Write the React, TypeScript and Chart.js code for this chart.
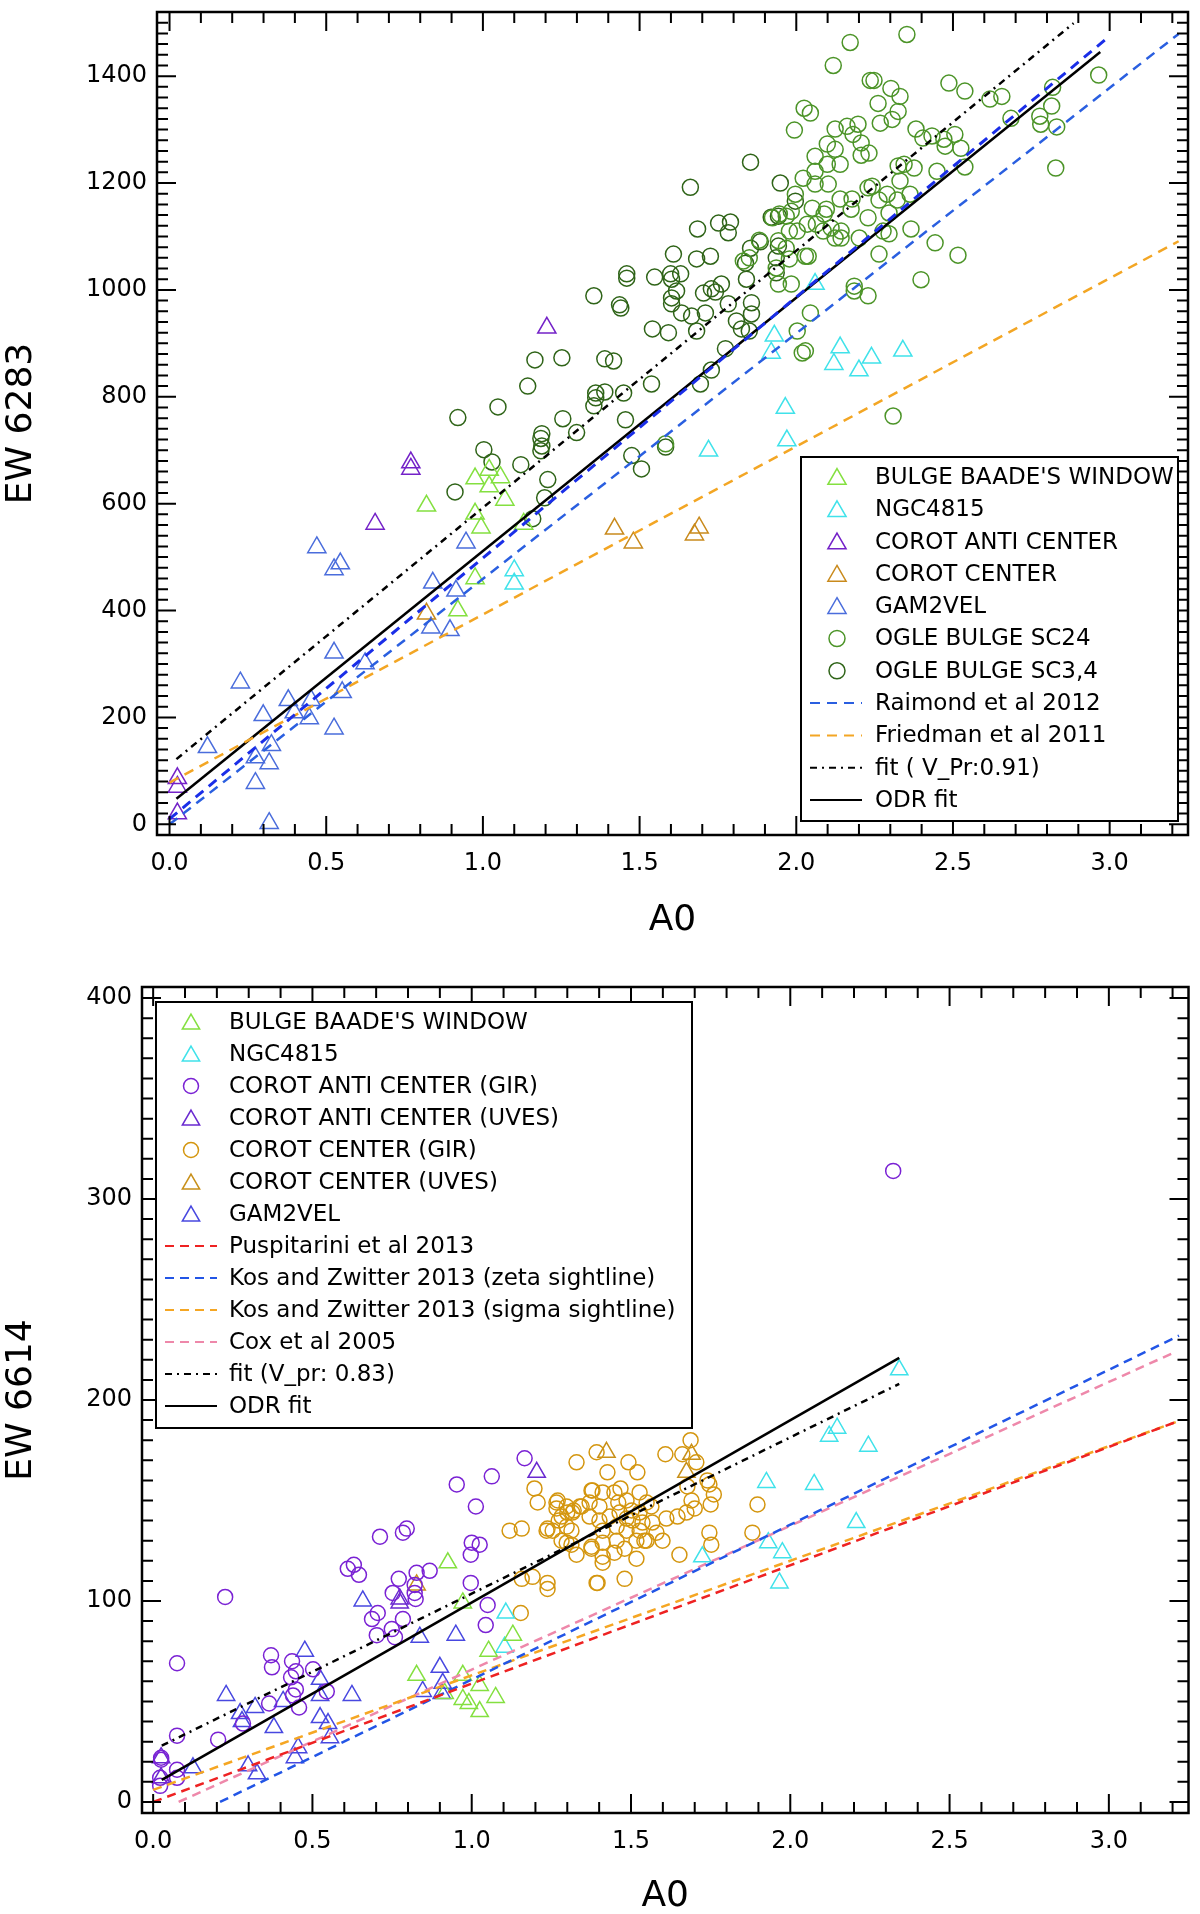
import React, { useEffect, useRef } from 'react';
import { Chart, registerables } from 'chart.js';

Chart.register(...registerables);

type Pt = [number, number];

// ---------- upper panel: EW 6283 against A0 ----------
const topXTicks = [0, 0.5, 1, 1.5, 2, 2.5, 3];
const topYTicks = [0, 200, 400, 600, 800, 1000, 1200, 1400];

const topBaade: Pt[] = [
  [0.82, 596], [0.975, 647], [1.02, 663], [1.056, 649], [1.02, 632], [1.07, 607],
  [0.975, 581], [0.994, 555], [1.13, 562], [0.975, 460], [0.92, 400],
];
const topNgc: Pt[] = [
  [1.965, 779], [1.97, 718], [1.72, 699], [1.1, 475], [1.1, 450], [2.06, 1011], [1.93, 914],
  [1.92, 882], [2.14, 892], [2.12, 861], [2.24, 873], [2.2, 849], [2.34, 886],
];
const topAnti: Pt[] = [
  [0.77, 677], [0.77, 665], [0.656, 562], [1.204, 929], [0.025, 86], [0.025, 70], [0.025, 20],
];
const topCenter: Pt[] = [
  [0.82, 394], [1.42, 553], [1.48, 527], [1.675, 542], [1.69, 555],
];
const topGam: Pt[] = [
  [0.47, 518], [0.545, 488], [0.525, 477], [0.946, 527], [0.84, 452], [0.914, 437], [0.834, 368],
  [0.895, 363], [0.525, 321], [0.624, 301], [0.226, 265], [0.379, 232], [0.452, 232], [0.551, 247],
  [0.398, 209], [0.299, 204], [0.446, 198], [0.525, 179], [0.121, 144], [0.325, 148], [0.274, 125],
  [0.318, 114], [0.274, 77], [0.318, 2],
];
const topSc24: Pt[] = [
  [2.172, 1463], [2.353, 1478], [2.118, 1420], [2.236, 1392], [2.248, 1392], [2.302, 1377],
  [2.331, 1362], [2.261, 1349], [2.325, 1334], [2.306, 1319], [2.268, 1312], [2.487, 1387],
  [2.538, 1372], [2.618, 1357], [2.656, 1362], [2.685, 1321], [2.818, 1379], [2.815, 1344],
  [2.777, 1325], [2.78, 1310], [2.831, 1305], [2.965, 1402], [2.828, 1228], [2.025, 1340],
  [2.045, 1331], [1.994, 1299], [2.124, 1301], [2.162, 1306], [2.197, 1310], [2.181, 1291],
  [2.099, 1273], [2.124, 1263], [2.207, 1275], [2.207, 1252], [2.232, 1256], [2.06, 1250],
  [2.099, 1235], [2.14, 1235], [2.06, 1222], [2.022, 1209], [2.06, 1198], [2.102, 1198],
  [2.051, 1153], [2.096, 1151], [2.14, 1170], [2.178, 1170], [2.175, 1151], [2.089, 1142],
  [2.035, 1123], [2.064, 1123], [2.003, 1110], [2.086, 1110], [2.111, 1116], [2.143, 1110],
  [2.124, 1097], [2.143, 1097], [2.229, 1191], [2.242, 1194], [2.229, 1135], [2.264, 1168],
  [2.29, 1179], [2.322, 1168], [2.331, 1204], [2.363, 1179], [2.325, 1232], [2.344, 1235],
  [2.376, 1228], [2.296, 1144], [2.277, 1110], [2.296, 1105], [2.366, 1114], [2.264, 1067],
  [2.201, 1097], [2.382, 1301], [2.404, 1284], [2.433, 1288], [2.471, 1282], [2.475, 1269],
  [2.506, 1291], [2.525, 1265], [2.449, 1222], [2.538, 1230], [2.443, 1088], [2.516, 1065],
  [2.398, 1019], [2.309, 764], [2.029, 886], [2.019, 882], [2.003, 923], [2.045, 957],
  [2.185, 1007], [2.185, 998], [2.229, 989], [1.984, 1011], [1.943, 1011], [1.936, 1041],
  [1.583, 712], [1.924, 1135], [1.946, 1142], [1.968, 1138], [1.978, 1110], [1.943, 1092],
  [2.029, 1063], [2.038, 1063], [1.968, 1078], [1.978, 1058], [1.882, 1093], [1.85, 1060],
  [1.831, 1054], [1.984, 1147], [1.997, 1179],
];
const topSc34: Pt[] = [
  [1.854, 1239], [1.662, 1192], [1.949, 1200], [1.997, 1166], [1.685, 1114], [1.752, 1125],
  [1.79, 1127], [1.783, 1107], [1.92, 1136], [1.943, 1138], [1.885, 1090], [1.854, 1078],
  [1.943, 1082], [1.608, 1067], [1.682, 1058], [1.726, 1063], [1.838, 1050], [1.936, 1060],
  [1.459, 1030], [1.459, 1022], [1.548, 1024], [1.599, 1030], [1.631, 1030], [1.602, 1020],
  [1.618, 998], [1.841, 1020], [1.936, 1032], [1.354, 989], [1.436, 972], [1.44, 966],
  [1.602, 985], [1.602, 974], [1.634, 957], [1.666, 951], [1.704, 994], [1.729, 1002],
  [1.742, 996], [1.761, 1011], [1.783, 974], [1.71, 957], [1.857, 976], [1.857, 955],
  [1.809, 942], [1.825, 927], [1.85, 923], [1.682, 923], [1.541, 927], [1.592, 920],
  [1.774, 890], [1.729, 850], [1.694, 824], [1.166, 869], [1.252, 873], [1.389, 871],
  [1.417, 867], [1.143, 820], [1.36, 807], [1.36, 798], [1.389, 809], [1.354, 783],
  [1.449, 807], [1.538, 824], [1.048, 781], [0.92, 761], [1.255, 759], [1.455, 757],
  [1.188, 731], [1.185, 722], [1.188, 708], [1.185, 699], [1.299, 733], [1.003, 701],
  [1.029, 678], [1.121, 673], [1.583, 706], [1.475, 690], [1.506, 665], [0.911, 622],
  [1.207, 645], [1.197, 611], [1.159, 572],
];
const topRaimond: Pt[] = [[0.0, 0], [3.22, 1479]];
const topRaimondBold: Pt[] = [[0.0, 10], [3.0, 1475]];
const topFriedman: Pt[] = [[0.0, 78], [3.22, 1091]];
const topFitVpr: Pt[] = [[0.022, 122], [2.885, 1499]];
const topOdr: Pt[] = [[0.022, 48], [2.97, 1445]];

// ---------- lower panel: EW 6614 against A0 ----------
const botXTicks = [0, 0.5, 1, 1.5, 2, 2.5, 3];
const botYTicks = [0, 100, 200, 300, 400];

const botBaade: Pt[] = [
  [0.925, 119], [0.972, 99], [1.053, 75], [1.129, 83], [0.827, 63], [0.972, 63], [1.025, 58],
  [0.972, 51], [0.991, 49], [1.025, 45], [1.075, 52], [0.915, 54],
];
const botNgc: Pt[] = [
  [1.107, 94], [1.103, 77], [1.724, 122], [1.925, 159], [2.075, 158], [2.147, 186], [2.122, 182],
  [2.245, 177], [2.207, 139], [1.931, 129], [1.975, 124], [1.966, 109], [2.342, 215],
];
const botAntiGir: Pt[] = [
  [1.166, 171], [1.063, 162], [0.953, 158], [1.013, 147], [0.712, 132], [0.784, 134], [0.796, 136],
  [1.0, 129], [1.025, 128], [0.997, 123], [0.611, 116], [0.63, 118], [0.646, 113], [0.771, 111],
  [0.827, 114], [0.868, 115], [0.821, 108], [0.752, 104], [0.821, 104], [0.824, 101], [0.997, 109],
  [0.226, 102], [0.705, 94], [0.687, 91], [0.784, 91], [1.05, 98], [1.044, 88], [0.702, 83],
  [0.749, 86], [0.759, 82], [0.075, 69], [0.37, 73], [0.373, 67], [0.436, 70], [0.448, 65],
  [0.433, 62], [0.502, 66], [0.448, 56], [0.439, 53], [0.545, 55], [0.364, 49], [0.458, 47],
  [0.282, 39], [0.075, 33], [0.204, 31], [0.025, 22], [0.025, 21], [0.075, 16], [0.075, 12],
  [0.022, 12], [0.022, 8], [2.323, 314],
];
const botAntiUves: Pt[] = [
  [1.204, 164], [0.774, 101], [0.774, 99], [0.025, 22], [0.025, 12],
];
const botCenterGir: Pt[] = [
  [1.687, 180], [1.392, 174], [1.608, 173], [1.492, 169], [1.329, 169], [1.661, 173], [1.705, 169],
  [1.52, 164], [1.426, 164], [1.74, 160], [1.197, 156], [1.207, 149], [1.376, 155], [1.411, 154],
  [1.448, 154], [1.467, 156], [1.486, 150], [1.46, 149], [1.527, 154], [1.27, 150], [1.298, 147],
  [1.32, 145], [1.339, 147], [1.266, 146], [1.37, 149], [1.401, 147], [1.549, 149], [1.564, 147],
  [1.677, 157], [1.69, 150], [1.7, 146], [1.75, 148], [1.76, 153], [1.746, 158], [1.646, 142],
  [1.611, 141], [1.674, 144], [1.433, 142], [1.401, 140], [1.37, 142], [1.464, 144], [1.502, 145],
  [1.486, 141], [1.527, 144], [1.505, 140], [1.536, 139], [1.527, 135], [1.567, 139], [1.58, 134],
  [1.599, 130], [1.549, 130], [1.282, 142], [1.298, 137], [1.254, 135], [1.235, 135], [1.313, 135],
  [1.282, 130], [1.313, 128], [1.411, 135], [1.455, 137], [1.486, 135], [1.455, 130], [1.411, 129],
  [1.48, 126], [1.517, 130], [1.542, 130], [1.329, 123], [1.376, 127], [1.411, 122], [1.448, 124],
  [1.517, 121], [1.411, 119], [1.652, 123], [1.746, 134], [1.752, 128], [1.119, 135], [1.157, 136],
  [1.157, 111], [1.191, 112], [1.238, 109], [1.238, 106], [1.392, 109], [1.48, 111], [1.154, 94],
  [1.897, 148], [1.881, 134], [1.238, 136], [1.266, 149], [1.3, 144], [1.273, 140], [1.316, 144],
  [1.345, 147], [1.379, 155], [1.298, 129], [1.376, 126], [1.395, 109],
];
const botCenterUves: Pt[] = [
  [0.827, 108], [1.423, 174], [1.674, 164], [1.69, 173],
];
const botGam: Pt[] = [
  [0.476, 75], [0.524, 61], [0.524, 53], [0.624, 53], [0.229, 53], [0.32, 47], [0.273, 44],
  [0.279, 40], [0.379, 37], [0.524, 42], [0.549, 39], [0.555, 32], [0.455, 27], [0.445, 22],
  [0.298, 18], [0.326, 14], [0.125, 17], [0.837, 82], [0.95, 83], [0.9, 67], [0.909, 59],
  [0.846, 55], [0.906, 54], [0.408, 50], [0.658, 100],
];
const botPuspitarini: Pt[] = [[0.0, 0], [3.21, 189]];
const botKosZeta: Pt[] = [[0.21, 0], [3.22, 232]];
const botKosSigma: Pt[] = [[0.0, 6], [3.21, 189]];
const botCox: Pt[] = [[0.08, 0], [3.21, 224]];
const botFitVpr: Pt[] = [[0.027, 28], [2.342, 208]];
const botOdr: Pt[] = [[0.027, 11], [2.342, 221]];

// ---------- drawing helpers ----------
interface Series { label: string; color: string; marker: 'triangle' | 'circle'; data: Pt[] }
interface Fit { label?: string; color: string; dash: number[]; width: number; data: Pt[] }

interface PanelSpec {
  height: number;
  top: number;
  series: Series[];
  fits: Fit[];
  xMin: number; xMax: number; xTicks: number[]; xMinor: number;
  yMin: number; yMax: number; yTicks: number[]; yMinor: number;
  yTitle: string;
  padTop: number;
  yAxisWidth: number;
  xAxisHeight: number;
  xTitlePad: number;
  triR: number;
  circR: number;
  legend: { x: number; y: number; w: number; h: number; row0: number; rowH: number; sym: number; l0: number; l1: number; text: number };
}

const FONT = "'DejaVu Sans', 'Liberation Sans', sans-serif";

function triangle(ctx: CanvasRenderingContext2D, x: number, y: number, r: number) {
  ctx.beginPath();
  let rad = 0;
  ctx.moveTo(x + Math.sin(rad) * r, y - Math.cos(rad) * r);
  for (let k = 0; k < 2; k++) {
    rad += (2 * Math.PI) / 3;
    ctx.lineTo(x + Math.sin(rad) * r, y - Math.cos(rad) * r);
  }
  ctx.closePath();
}

// box round the plot, with inward ticks on all four sides
const frameTicks = {
  id: 'frameTicks',
  afterDatasetsDraw(chart: any, _args: any, opts: any) {
    const { ctx, chartArea: a, scales } = chart;
    const xs = scales.x;
    const ys = scales.y;
    ctx.save();
    ctx.strokeStyle = '#000';
    ctx.lineWidth = 2;
    const xTick = (v: number, len: number) => {
      const p = xs.getPixelForValue(v);
      ctx.beginPath();
      ctx.moveTo(p, a.bottom);
      ctx.lineTo(p, a.bottom - len);
      ctx.moveTo(p, a.top);
      ctx.lineTo(p, a.top + len);
      ctx.stroke();
    };
    const yTick = (v: number, len: number) => {
      const p = ys.getPixelForValue(v);
      ctx.beginPath();
      ctx.moveTo(a.left, p);
      ctx.lineTo(a.left + len, p);
      ctx.moveTo(a.right, p);
      ctx.lineTo(a.right - len, p);
      ctx.stroke();
    };
    const isMajor = (v: number, list: number[]) => list.some((m) => Math.abs(m - v) < 1e-6);
    for (let i = Math.ceil(xs.min / opts.xMinor); i * opts.xMinor < xs.max - 1e-6; i++) {
      const v = i * opts.xMinor;
      xTick(v, isMajor(v, opts.xTicks) ? 19 : 11);
    }
    for (let i = Math.ceil(ys.min / opts.yMinor); i * opts.yMinor < ys.max - 1e-6; i++) {
      const v = i * opts.yMinor;
      yTick(v, isMajor(v, opts.yTicks) ? 19 : 11);
    }
    ctx.lineWidth = 2.5;
    ctx.strokeRect(a.left, a.top, a.right - a.left, a.bottom - a.top);
    ctx.restore();
  },
};

const boxLegend = {
  id: 'boxLegend',
  afterDraw(chart: any, _args: any, opts: any) {
    const { ctx } = chart;
    const g = opts.geom;
    ctx.save();
    ctx.fillStyle = '#fff';
    ctx.fillRect(g.x, g.y, g.w, g.h);
    ctx.strokeStyle = '#000';
    ctx.lineWidth = 2;
    ctx.strokeRect(g.x, g.y, g.w, g.h);
    ctx.font = `${opts.fontSize}px ${FONT}`;
    ctx.textBaseline = 'middle';
    ctx.textAlign = 'left';
    opts.entries.forEach((e: any, i: number) => {
      const y = g.row0 + i * g.rowH;
      ctx.strokeStyle = e.color;
      if (e.kind === 'line') {
        ctx.lineWidth = e.width;
        ctx.setLineDash(e.dash);
        ctx.beginPath();
        ctx.moveTo(g.l0, y);
        ctx.lineTo(g.l1, y);
        ctx.stroke();
        ctx.setLineDash([]);
      } else if (e.kind === 'triangle') {
        ctx.lineWidth = 1.5;
        triangle(ctx, g.sym, y + 2, opts.triR);
        ctx.stroke();
      } else {
        ctx.lineWidth = 1.5;
        ctx.beginPath();
        ctx.arc(g.sym, y, opts.circR, 0, Math.PI * 2);
        ctx.stroke();
      }
      ctx.fillStyle = '#000';
      ctx.fillText(e.label, g.text, y + 1);
    });
    ctx.restore();
  },
};

function buildConfig(spec: PanelSpec): any {
  const toXY = (pts: Pt[]) => pts.map(([x, y]) => ({ x, y }));
  const datasets = [
    ...spec.fits.map((f) => ({
      label: f.label ?? '',
      data: toXY(f.data),
      showLine: true,
      borderColor: f.color,
      borderWidth: f.width,
      borderDash: f.dash,
      pointRadius: 0,
      fill: false,
      order: 0,
    })),
    ...spec.series.map((s) => ({
      label: s.label,
      data: toXY(s.data),
      showLine: false,
      pointStyle: s.marker,
      pointRadius: s.marker === 'triangle' ? spec.triR : spec.circR,
      pointBorderWidth: 1.5,
      pointBorderColor: s.color,
      pointBackgroundColor: 'rgba(0,0,0,0)',
      borderColor: s.color,
      backgroundColor: 'rgba(0,0,0,0)',
      order: 1,
    })),
  ];
  const entries = [
    ...spec.series.map((s) => ({ label: s.label, color: s.color, kind: s.marker })),
    ...spec.fits
      .filter((f) => f.label)
      .map((f) => ({ label: f.label, color: f.color, kind: 'line', dash: f.dash, width: 2 })),
  ];
  const tickFont = { family: FONT, size: 24 };
  const titleFont = { family: FONT, size: 36 };
  return {
    type: 'scatter',
    data: { datasets },
    options: {
      animation: false,
      responsive: false,
      devicePixelRatio: 1,
      layout: { padding: { top: spec.padTop, right: 10, left: 0, bottom: 0 } },
      scales: {
        x: {
          type: 'linear',
          min: spec.xMin,
          max: spec.xMax,
          afterBuildTicks: (axis: any) => {
            axis.ticks = spec.xTicks.map((value) => ({ value }));
          },
          afterFit: (axis: any) => {
            axis.height = spec.xAxisHeight;
            axis.paddingLeft = 0;
            axis.paddingRight = 0;
          },
          grid: { display: false, drawTicks: false },
          border: { display: false },
          ticks: {
            color: '#000',
            font: tickFont,
            padding: 14,
            autoSkip: false,
            maxRotation: 0,
            callback: (v: any) => Number(v).toFixed(1),
          },
          title: {
            display: true,
            text: 'A0',
            color: '#000',
            font: titleFont,
            padding: { top: 0, bottom: spec.xTitlePad },
          },
        },
        y: {
          type: 'linear',
          min: spec.yMin,
          max: spec.yMax,
          afterBuildTicks: (axis: any) => {
            axis.ticks = spec.yTicks.map((value) => ({ value }));
          },
          afterFit: (axis: any) => {
            axis.width = spec.yAxisWidth;
            axis.paddingTop = 0;
            axis.paddingBottom = 0;
          },
          grid: { display: false, drawTicks: false },
          border: { display: false },
          ticks: {
            color: '#000',
            font: tickFont,
            padding: 10,
            autoSkip: false,
            callback: (v: any) => String(v),
          },
          title: {
            display: true,
            text: spec.yTitle,
            color: '#000',
            font: titleFont,
            padding: { top: 0, bottom: 0 },
          },
        },
      },
      plugins: {
        legend: { display: false },
        tooltip: { enabled: false },
        frameTicks: {
          xTicks: spec.xTicks,
          yTicks: spec.yTicks,
          xMinor: spec.xMinor,
          yMinor: spec.yMinor,
        },
        boxLegend: {
          geom: spec.legend,
          entries,
          fontSize: 23,
          triR: spec.triR,
          circR: spec.circR,
        },
      },
    },
    plugins: [frameTicks, boxLegend],
  };
}

const topSpec: PanelSpec = {
  height: 960,
  top: 0,
  series: [
    { label: "BULGE BAADE'S WINDOW", color: '#84e040', marker: 'triangle', data: topBaade },
    { label: 'NGC4815', color: '#40e2ea', marker: 'triangle', data: topNgc },
    { label: 'COROT ANTI CENTER', color: '#7422c8', marker: 'triangle', data: topAnti },
    { label: 'COROT CENTER', color: '#c98a1c', marker: 'triangle', data: topCenter },
    { label: 'GAM2VEL', color: '#4a6ddc', marker: 'triangle', data: topGam },
    { label: 'OGLE BULGE SC24', color: '#4c9428', marker: 'circle', data: topSc24 },
    { label: 'OGLE BULGE SC3,4', color: '#2f6418', marker: 'circle', data: topSc34 },
  ],
  fits: [
    { label: 'Raimond et al 2012', color: '#2a5fe0', dash: [10, 7], width: 2.5, data: topRaimond },
    { color: '#1a2ee8', dash: [10, 7], width: 3, data: topRaimondBold },
    { label: 'Friedman et al 2011', color: '#f3a624', dash: [10, 7], width: 2.5, data: topFriedman },
    { label: 'fit ( V_Pr:0.91)', color: '#000', dash: [7, 5, 2, 5], width: 2.5, data: topFitVpr },
    { label: 'ODR fit', color: '#000', dash: [], width: 2.5, data: topOdr },
  ],
  xMin: -0.04, xMax: 3.25, xTicks: topXTicks, xMinor: 0.1,
  yMin: -20, yMax: 1520, yTicks: topYTicks, yMinor: 20,
  yTitle: 'EW 6283',
  padTop: 10,
  yAxisWidth: 157,
  xAxisHeight: 125,
  xTitlePad: 18,
  triR: 10.5,
  circR: 8,
  legend: { x: 801, y: 457, w: 377, h: 364, row0: 477, rowH: 32.3, sym: 837, l0: 810, l1: 862, text: 875 },
};

const botSpec: PanelSpec = {
  height: 954,
  top: 960,
  series: [
    { label: "BULGE BAADE'S WINDOW", color: '#84e040', marker: 'triangle', data: botBaade },
    { label: 'NGC4815', color: '#40e2ea', marker: 'triangle', data: botNgc },
    { label: 'COROT ANTI CENTER (GIR)', color: '#7a22d4', marker: 'circle', data: botAntiGir },
    { label: 'COROT ANTI CENTER (UVES)', color: '#6a2ad0', marker: 'triangle', data: botAntiUves },
    { label: 'COROT CENTER (GIR)', color: '#d4960f', marker: 'circle', data: botCenterGir },
    { label: 'COROT CENTER (UVES)', color: '#c8901a', marker: 'triangle', data: botCenterUves },
    { label: 'GAM2VEL', color: '#4848e0', marker: 'triangle', data: botGam },
  ],
  fits: [
    { label: 'Puspitarini et al 2013', color: '#ee2222', dash: [9, 6], width: 2.5, data: botPuspitarini },
    { label: 'Kos and Zwitter 2013 (zeta sightline)', color: '#2255e6', dash: [9, 6], width: 2.5, data: botKosZeta },
    { label: 'Kos and Zwitter 2013 (sigma sightline)', color: '#f5a623', dash: [9, 6], width: 2.5, data: botKosSigma },
    { label: 'Cox et al 2005', color: '#ee88aa', dash: [9, 6], width: 2.5, data: botCox },
    { label: 'fit (V_pr: 0.83)', color: '#000', dash: [7, 5, 2, 5], width: 2.5, data: botFitVpr },
    { label: 'ODR fit', color: '#000', dash: [], width: 2.5, data: botOdr },
  ],
  xMin: -0.035, xMax: 3.25, xTicks: botXTicks, xMinor: 0.1,
  yMin: -5.5, yMax: 405.5, yTicks: botYTicks, yMinor: 10,
  yTitle: 'EW 6614',
  padTop: 27,
  yAxisWidth: 142,
  xAxisHeight: 101,
  xTitlePad: -4,
  triR: 10,
  circR: 7.5,
  legend: { x: 156, y: 42, w: 536, h: 426, row0: 62, rowH: 32, sym: 191, l0: 165, l1: 217, text: 229 },
};

function Panel({ spec }: { spec: PanelSpec }) {
  const canvasRef = useRef<HTMLCanvasElement>(null);
  const chartRef = useRef<Chart | null>(null);

  useEffect(() => {
    if (!canvasRef.current) return;
    if (chartRef.current) chartRef.current.destroy();
    chartRef.current = new Chart(canvasRef.current, buildConfig(spec));
    return () => {
      if (chartRef.current) {
        chartRef.current.destroy();
        chartRef.current = null;
      }
    };
  }, [spec]);

  return (
    <canvas
      ref={canvasRef}
      width={1200}
      height={spec.height}
      style={{ position: 'absolute', left: 0, top: spec.top, width: 1200, height: spec.height }}
    />
  );
}

export default function App() {
  return (
    <div style={{ position: 'absolute', left: 0, top: 0, width: 1200, height: 1914, background: '#fff' }}>
      <Panel spec={topSpec} />
      <Panel spec={botSpec} />
    </div>
  );
}
